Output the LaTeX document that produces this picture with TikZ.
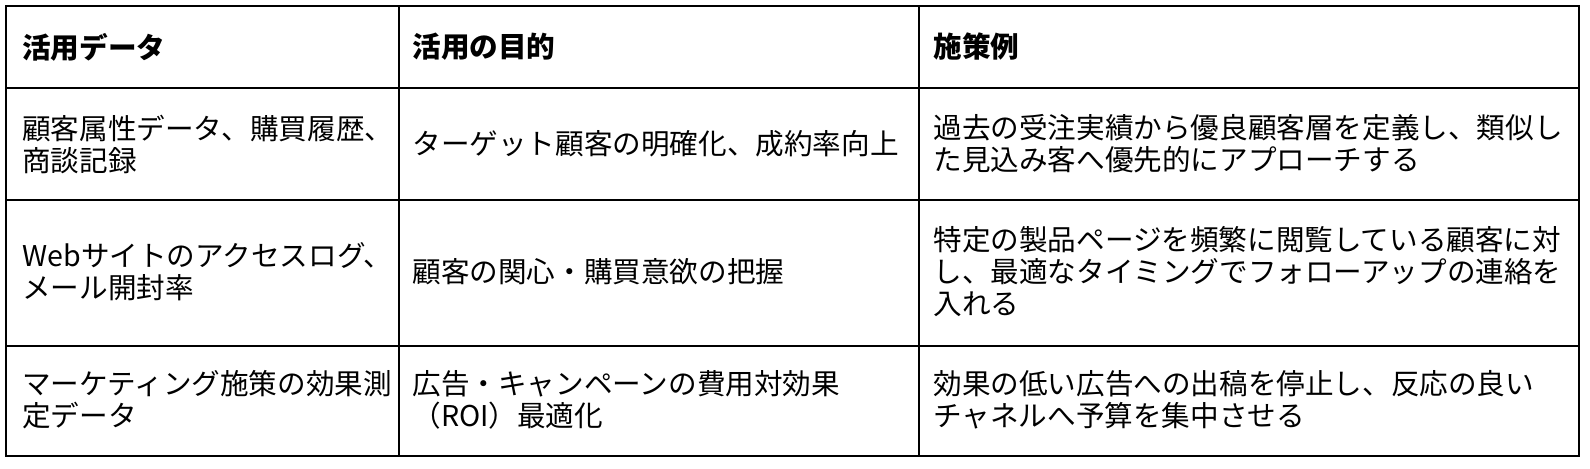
\documentclass[tikz,border=0pt]{standalone}
\usepackage{fontspec}
\setmainfont{Noto Sans CJK JP}
\begin{document}
\begin{tikzpicture}[x=0.5pt,y=-0.5pt,
  grid/.style={line width=1pt,black},
  cell/.style={anchor=west,align=left,inner sep=0pt,font=\fontsize{14.3}{16}\selectfont},
  head/.style={cell,font=\fontsize{14.3}{16}\selectfont\bfseries}]
\useasboundingbox (0,0) rectangle (1590,468);
\draw[grid] (6,6) rectangle (1579,456);
\draw[grid] (399,6) -- (399,456);
\draw[grid] (919,6) -- (919,456);
\draw[grid] (6,88) -- (1579,88);
\draw[grid] (6,200) -- (1579,200);
\draw[grid] (6,346) -- (1579,346);
\node[head] (h1) at (22,47) {活用データ};
\node[head] (h2) at (412,47) {活用の目的};
\node[head] (h3) at (933,47) {施策例};
\node[cell] (a1) at (22,144) {顧客属性データ、購買履歴、\\商談記録};
\node[cell] (b1) at (412,144) {ターゲット顧客の明確化、成約率向上};
\node[cell] (c1) at (933,144) {過去の受注実績から優良顧客層を定義し、類似し\\た見込み客へ優先的にアプローチする};
\node[cell] (a2) at (22,272) {Webサイトのアクセスログ、\\メール開封率};
\node[cell] (b2) at (412,272) {顧客の関心・購買意欲の把握};
\node[cell] (c2) at (933,272) {特定の製品ページを頻繁に閲覧している顧客に対\\し、最適なタイミングでフォローアップの連絡を\\入れる};
\node[cell] (a3) at (22,400) {マーケティング施策の効果測\\定データ};
\node[cell] (b3) at (412,400) {広告・キャンペーンの費用対効果\\（ROI）最適化};
\node[cell] (c3) at (933,400) {効果の低い広告への出稿を停止し、反応の良い\\チャネルへ予算を集中させる};
\end{tikzpicture}
\end{document}
